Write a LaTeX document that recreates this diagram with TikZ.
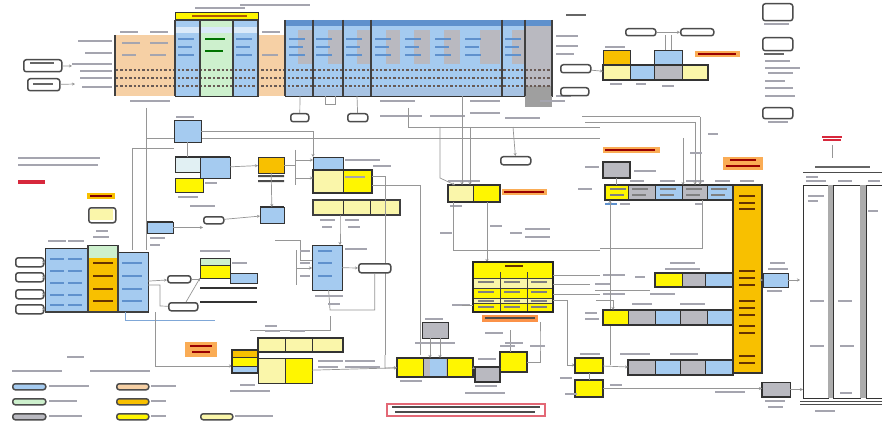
\documentclass[tikz,border=0pt]{standalone}
\usetikzlibrary{arrows.meta}
\definecolor{cblue}{RGB}{165,203,240}
\definecolor{cdblue}{RGB}{95,145,205}
\definecolor{cgreen}{RGB}{205,240,205}
\definecolor{cgray}{RGB}{185,185,192}
\definecolor{cpeach}{RGB}{246,208,165}
\definecolor{cgold}{RGB}{248,192,0}
\definecolor{cyel}{RGB}{255,246,0}
\definecolor{clyel}{RGB}{250,246,170}
\definecolor{corg}{RGB}{250,172,85}
\definecolor{cwire}{RGB}{150,150,150}
\definecolor{ctxt}{RGB}{165,165,175}
\definecolor{cred}{RGB}{215,40,60}
\definecolor{dotc}{RGB}{105,90,85}
\newcommand\bx[6]{\node[bxs,fill=#6,minimum width=#4pt,minimum height=#5pt] (#1) at (#2,#3) {};}
\newcommand\rb[5]{\node[rbs,minimum width=#4pt,minimum height=#5pt] (#1) at (#2,#3) {};}
\newcommand\tb[4][ctxt]{\fill[#1] (#2,#3) rectangle ++(#4,1.8);}
\begin{document}
\begin{tikzpicture}[x=1pt,y=-1pt,
  bxs/.style={draw=black!80,line width=0.9pt,inner sep=0pt,anchor=north west,outer sep=0pt},
  rbs/.style={draw=black!70,line width=1.5pt,rounded corners=2.5pt,fill=white,inner sep=0pt,anchor=north west},
  lab/.style={inner sep=0pt,anchor=north west,fill=corg},
  wire/.style={draw=cwire,line width=0.7pt},
  arr/.style={wire,-{Stealth[length=3pt,width=3pt]}}]
\fill[white] (0,0) rectangle (882,422);
\useasboundingbox (0,0) rectangle (882,422);

% ================= TOP TABLE =================
\tb{240}{4}{70}
\tb{195}{7}{50}
\node[bxs,fill=cyel,minimum width=83pt,minimum height=8pt] (thdr) at (175,12) {};
\tb[orange!70!black]{192}{15}{55}
\fill[cpeach] (115,35) rectangle (175,96);
\fill[cpeach] (258,35) rectangle (285,96);
\tb{120}{31}{18}\tb{150}{31}{18}\tb{262}{31}{18}
\bx{tA}{175}{20}{25}{76}{cblue}
\bx{tB}{200}{20}{33}{76}{cgreen}
\bx{tC}{233}{20}{25}{76}{cblue}
\fill[white!60!cblue] (176,27) rectangle (257,33);
\bx{tD}{285}{20}{267}{76}{cblue}
\fill[cdblue] (285,20) rectangle (552,26);
\foreach \xa/\xb in {298/312,328/343,357/371,386/400,414/430,444/460,480/500,512/525}{
  \fill[cgray] (\xa,30) rectangle (\xb,64);}
\fill[cgray] (525,26) rectangle (552,96);
\fill[gray!75] (525,86) rectangle (552,107);
\fill[cdblue!55] (285,88) rectangle (525,96);
\foreach \yy in {70,78,86}{
  \draw[line width=2.2pt,dash pattern=on 2.4pt off 2pt,draw=dotc] (116,\yy)--(552,\yy);}
\foreach \xx in {175,200,233,258,285,313,343,371,502,525,552}{
  \draw[black!75,line width=1.1pt] (\xx,20)--(\xx,96);}
\draw[black!75,line width=1.4pt] (115,35)--(115,96);
\draw[black!75,line width=1.4pt] (175,20)--(258,20);
% cell text
\foreach \xx in {178,236,289,316,346,375,405,435,465,505}{
  \tb[cdblue]{\xx}{38}{16}\tb[cdblue]{\xx}{46}{14}\tb[cdblue]{\xx}{54}{16}}
\foreach \xx in {205,213}{\tb[green!45!black]{\xx}{38}{12}\tb[green!45!black]{\xx}{50}{10}}
\tb{122}{42}{18}\tb{150}{42}{18}\tb{122}{54}{14}\tb{150}{54}{16}\tb{262}{54}{16}
% row labels
\tb{78}{40}{34}\tb{85}{52}{27}\tb{72}{63}{40}\tb{80}{70}{32}\tb{80}{77}{32}\tb{82}{86}{30}
\tb{130}{100}{40}\tb{380}{100}{35}\tb{470}{100}{30}\tb{540}{100}{25}
% left rounded boxes
\rb{lr1}{23}{59}{38}{12}
\rb{lr2}{27}{78}{32}{12}
\tb[black!60]{30}{62}{24}\tb[black!60]{33}{83}{20}
\coordinate (lr1e) at (72,66);
\coordinate (lr2e) at (75,84);
\draw[arr] (lr1) -- (lr1e);
\draw[arr] (lr2) -- (lr2e);
% right of table
\tb[black!60]{566}{14}{20}
\tb{556}{35}{22}\tb{556}{45}{22}\tb{556}{53}{18}\tb{556}{95}{15}
\rb{tr1}{560}{64}{30}{8}
\rb{tr2}{560}{87}{28}{8}
% under table
\rb{u1}{290}{113}{18}{8}
\rb{u2}{347}{113}{20}{8}
\tb{380}{115}{42}\tb{430}{115}{35}\tb{470}{112}{30}\tb{505}{117}{35}
\draw[wire] (300,96) -- (u1);
\draw[wire] (357,96) -- (u2);
\draw[wire] (325,96) -- (325,104) -- (335,104) -- (335,96);

% ================= TOP RIGHT GROUP =================
\rb{gr1}{625}{28}{30}{7}
\rb{gr2}{680}{28}{33}{7}
\draw[arr] (gr1) -- (gr2);
\bx{gA}{603}{50}{27}{15}{cgold}
\bx{gB}{603}{65}{27}{15}{clyel}
\bx{gC}{630}{65}{24}{15}{cblue}
\bx{gD}{654}{50}{28}{15}{cblue}
\bx{gE}{654}{65}{28}{15}{cgray}
\bx{gF}{682}{65}{26}{15}{clyel}
\draw[black!80,line width=1.5pt] (603,65) rectangle (708,80);
\node[lab,minimum width=45pt,minimum height=6pt] (glab) at (695,51) {};
\tb[red!60!black]{698}{53}{38}
\tb{605}{46}{20}\tb{610}{83}{12}\tb{636}{83}{10}\tb{662}{85}{12}
\draw[wire] (665,35) -- (gD.north -| 665,0);
\draw[wire] (671,35) -- (gD.north -| 671,0);
\draw[arr] (tr1) -- (gB);
% right legend
\rb{lg1}{762}{3}{30}{17}
\rb{lg2}{762}{37}{30}{13}
\rb{lg3}{762}{107}{30}{11}
\tb{764}{23}{25}\tb[black!60]{764}{53}{20}
\tb{765}{60}{25}\tb{765}{67}{35}\tb{768}{72}{25}\tb{765}{80}{20}\tb{765}{87}{28}\tb{765}{95}{30}
\tb{768}{121}{20}
% big frame lines
\coordinate (fr1) at (582,117);
\coordinate (fr2) at (700,117);
\coordinate (fr3) at (585,122);
\coordinate (fr4) at (695,122);
\draw[wire,line width=1pt] (fr1) -- (fr2);
\draw[wire] (fr3) -- (fr4);

% ================= LONG LINES =================
\coordinate (h1) at (146,138);
\coordinate (h2) at (600,138);
\draw[wire] (408,108) |- (600,127);
\draw[wire] (h1) -- (h2);
\draw[wire] (146,108) -- (146,250);
\draw[wire] (132,148) -- (132,250);
\draw[wire] (132,148) -- (174,148);

% ================= MIDDLE LEFT =================
\tb{18}{157}{82}\tb{18}{164}{80}
\tb[cred]{18}{180}{27}\tb[cred]{18}{182}{27}
\node[lab,fill=cgold,minimum width=28pt,minimum height=6pt] (sl) at (87,193) {};
\tb[red!50!black]{90}{195}{22}
\rb{sbox}{88}{207}{27}{15}
\fill[clyel] (90,209) rectangle (113,220);
\tb{96}{230}{12}\tb{93}{236}{16}
% left table
\bx{lt}{45}{248}{43}{64}{cblue}
\tb{48}{240}{18}\tb{68}{240}{16}
\bx{ot}{88}{245}{30}{67}{cgold}
\fill[cgreen] (88.5,245.5) rectangle (117.5,258);
\bx{bt}{118}{252}{30}{60}{cblue}
\draw[black!75,line width=1.4pt] (88,245)--(88,312) (118,245)--(118,312);
\draw[black!75,line width=1.4pt] (45,312)--(148,312);
\foreach \yy in {258,270,282,294,304}{\tb[cdblue]{50}{\yy}{14}\tb[cdblue]{68}{\yy}{14}}
\foreach \yy in {262,275,288,300}{\tb[orange!40!black]{93}{\yy}{20}\tb[cdblue]{122}{\yy}{20}}
% left arrows
\rb{la1}{15}{257}{28}{9}
\rb{la2}{15}{272}{28}{9}
\rb{la3}{15}{289}{28}{9}
\rb{la4}{15}{304}{28}{9}
\foreach \n in {1,2,3,4}{\draw[arr] (la\n) -- (la\n -| lt.west);}
% small boxes
\bx{sb1}{147}{222}{26}{11}{cblue}
\draw[black!80,line width=1.6pt] (147,222)--(173,222);
\tb{150}{237}{15}\tb{150}{244}{10}
\bx{mt1}{174}{120}{27}{22}{cblue}
\tb{176}{116}{18}
\bx{mc1}{175}{157}{25}{15}{cgreen!40!cblue!40}
\bx{mc2}{200}{157}{30}{21}{cblue}
\bx{my1}{175}{178}{28}{14}{cyel}
\draw[black!80,line width=1.6pt] (175,157)--(230,157);
\tb{178}{196}{20}\tb{205}{182}{12}\tb{190}{205}{25}
\rb{rb3}{203}{216}{20}{7}
\node[bxs,fill=cgold,minimum width=26pt,minimum height=16pt] (dp) at (258,157) {};
\fill[black!70] (258,175) rectangle (284,177) (258,180) rectangle (284,182);
\draw[arr] (mc2) -- (dp);
\bx{db}{260}{207}{24}{16}{cblue}
\draw[black!80,line width=1.6pt] (260,207)--(284,207);
\draw[arr] (dp) -- (db);
\draw[arr] (rb3) -- (db);
\draw[arr] (mt1) -| (313,157);
% mid stack
\bx{ms1}{200}{258}{30}{7}{cgreen}
\bx{ms2}{200}{265}{30}{13}{cyel}
\bx{ms3}{230}{273}{27}{10}{cblue}
\draw[black!80,line width=1.3pt] (200,288)--(257,288) (200,302)--(257,302);
\tb{200}{250}{30}\tb{232}{262}{15}
\rb{rb4}{167}{275}{23}{7}
\rb{rb5}{168}{302}{29}{8}
\draw[arr] (bt) -- (rb4);
\draw[arr] (rb5) -- (ms2.south west);
\draw[arr] (sb1) -- (sb1 -| rb3.west);
\draw[wire] (mt1) -- (mc1);
\draw[wire] (148,285) -- (160,285) -- (160,306) -- (rb5);
\draw[wire] (rb4) -- (rb4 -| ms2.west);
% blue line to stack
\draw[draw=cdblue!80,line width=0.8pt] (125,312) |- (215,320);
\draw[arr] (155,312) |- (232,366);
\draw[wire] (275,240) -- (300,240) -- (300,260) -- (312,260);

% ================= MIDDLE CENTER =================
\bx{cb1}{313}{157}{30}{13}{cblue}
\bx{cy1}{313}{170}{30}{23}{clyel}
\bx{cy2}{343}{170}{29}{23}{cyel}
\draw[black!80,line width=1.6pt] (313,170) rectangle (372,193);
% bracket into centre boxes
\draw[wire] (295,150) -- (295,185);
\draw[arr] (295,160) -- (cb1.west |- 0,160);
\draw[arr] (295,178) -- (cy1.west |- 0,178);
\draw[wire] (284,165) -- (295,165);
\bx{cr1}{313}{200}{30}{15}{clyel}
\bx{cr2}{343}{200}{27}{15}{clyel}
\bx{cr3}{370}{200}{30}{15}{clyel}
\draw[black!75,line width=1.6pt] (313,200) rectangle (400,215);
\tb{320}{219}{15}\tb{345}{219}{14}\tb{322}{226}{10}\tb{348}{226}{12}
\tb{345}{159}{35}\tb{345}{176}{20}
\tb{373}{165}{18}
\draw[wire] (372,176) -- (385,176) -- (385,355);
\bx{cbcol}{312}{245}{30}{45}{cblue}
\tb[cdblue]{318}{250}{14}\tb[cdblue]{318}{262}{14}\tb[cdblue]{318}{275}{14}
\tb{300}{250}{10}\tb{300}{262}{10}\tb{300}{275}{10}\tb{345}{248}{22}
\draw[wire] (296,250) -- (296,285);
\draw[arr] (296,268) -- (cbcol.west |- 0,268);
\rb{rb6}{358}{263}{32}{9}
\draw[arr] (cbcol) -- (rb6);
\draw[wire] (rb6.south) |- (330,310) -- (cbcol);
\tb{315}{295}{28}\tb{328}{303}{12}
\draw[wire] (330,316) |- (250,330);
\draw[arr] (340,215) -- (340,225) -- (cbcol.north -| 340,0);

% yellow pair
\bx{py1}{448}{185}{25}{17}{clyel}
\bx{py2}{473}{185}{27}{17}{cyel}
\draw[black!80,line width=1.6pt] (448,185) rectangle (500,202);
\node[lab,minimum width=45pt,minimum height=6pt] (plab) at (502,189) {};
\tb[red!60!black]{504}{191}{40}
\tb{448}{180}{32}\tb{450}{205}{12}
\draw[arr] (462,96) -- (py1.north -| 462,0);
\draw[arr] (470,127) -- (py1.north -| 470,0);
\draw[arr] (440,127) -- (440,178) -- (py1.north -| 455,0);
\rb{rb7}{500}{156}{30}{8}
\draw[arr] (513,127) -- (rb7);
\draw[wire] (453,202) |- (600,250);
\draw[arr] (487,202) -- (487,262);
\tb{490}{225}{12}\tb{440}{232}{12}\tb{510}{232}{12}
\tb{525}{228}{25}\tb{525}{236}{25}
\draw[wire] (372,185) -- (420,185) -- (420,355);

% yellow table
\node[bxs,fill=clyel,minimum width=80pt,minimum height=50pt,line width=1.8pt] (yt) at (473,262) {};
\fill[cyel] (474,263) rectangle (552,272);
\fill[cyel] (474,272) rectangle (552,278);
\fill[cyel] (474,288) rectangle (552,298);
\fill[cyel] (474,303) rectangle (552,311);
\draw[black!75,line width=1pt] (500,272)--(500,311) (527,272)--(527,311);
\draw[black!75,line width=0.8pt] (474,278)--(552,278) (474,288)--(552,288) (474,298)--(552,298) (474,303)--(552,303);
\draw[black!85,line width=1.8pt] (473,262) rectangle (553,312);
\tb[orange!40!black]{505}{265}{18}
\foreach \yy in {281,291,300,306}{\tb[black!50]{478}{\yy}{16}\tb[black!50]{504}{\yy}{16}\tb[black!50]{531}{\yy}{16}}
\node[lab,fill=corg!85!red,minimum width=56pt,minimum height=7pt] (ylab) at (482,315) {};
\tb[black!70]{485}{317}{50}
\draw[wire] (553,275) -- (600,275);
\draw[wire] (553,284) -- (590,284);
\draw[wire] (553,294) -- (600,294);
\tb{603}{274}{22}\tb{595}{283}{15}\tb{603}{293}{22}
\draw[arr] (553,300) -- (567,300) |- (575,365);
\tb{452}{304}{18}
\draw[wire] (473,305) -- (462,305);

% bottom center
\bx{bc1}{397}{358}{26}{19}{cyel}
\bx{bc2}{423}{358}{24}{19}{cgray}
\fill[cblue] (430,359) rectangle (446,376);
\bx{bc3}{447}{358}{26}{19}{cyel}
\draw[black!80,line width=1.6pt] (397,358) rectangle (473,377);
\bx{bc4}{475}{367}{25}{15}{cgray}
\draw[black!80,line width=1.4pt] (475,367) rectangle (500,382);
\bx{bc5}{500}{352}{27}{20}{cyel}
\draw[black!80,line width=2pt] (500,352) rectangle (527,372);
\bx{bcg}{422}{322}{26}{16}{cgray}
\tb{425}{318}{18}\tb{415}{342}{40}
\draw[arr] (bcg.south -| 430,0) -- (430,358);
\draw[arr] (bcg.south -| 440,0) -- (440,358);
\draw[arr] (385,355) -- (385,368) -- (bc1);
\draw[arr] (473,368) -- (bc4);
\draw[wire] (bc4) -- (bc5);
\draw[wire] (bc5.east) -- (540,362) -- (540,340) -- (ylab.south -| 540,0);
\draw[wire] (510,352) -- (510,330);
\tb{485}{332}{18}\tb{505}{342}{18}\tb{530}{345}{15}
\tb{400}{380}{22}\tb{475}{385}{22}\tb{465}{392}{40}
\tb{500}{345}{15}\tb{478}{358}{18}
% red bordered note
\node[bxs,draw=cred!70,line width=1.2pt,fill=white,minimum width=158pt,minimum height=12pt] (note) at (387,404) {};
\tb[black!70]{392}{406}{148}\tb[black!70]{395}{411}{140}

% ================= BOTTOM LEFT =================
\node[lab,fill=corg,minimum width=32pt,minimum height=15pt] (clab) at (185,342) {};
\tb[red!60!black]{190}{345}{22}\tb[red!60!black]{192}{351}{18}
\node[lab,fill=cgold,minimum width=26pt,minimum height=7pt] (ylb) at (232,350) {};
\bx{lb1}{232}{357}{26}{9}{cyel}
\bx{lb0}{232}{366}{26}{7}{cblue}
\bx{lb2}{258}{358}{27}{25}{clyel}
\bx{lb3}{285}{358}{27}{25}{cyel}
\draw[black!80,line width=1.4pt] (232,350) rectangle (258,373);
\bx{lr3}{258}{338}{27}{14}{clyel}
\bx{lr4}{285}{338}{27}{14}{clyel}
\bx{lr5}{312}{338}{31}{14}{clyel}
\draw[black!80,line width=1.4pt] (258,338) rectangle (343,352);
\tb{265}{330}{15}\tb{290}{330}{15}\tb{265}{325}{12}
\tb{240}{384}{15}\tb{230}{390}{40}
\draw[arr] (lb3) -- (bc1);
\tb{318}{360}{25}\tb{318}{366}{20}\tb{345}{360}{30}\tb{345}{366}{35}

% legend
\tb{67}{356}{17}
\tb{12}{370}{50}\tb{90}{370}{60}
\node[rbs,fill=cblue,minimum width=33pt,minimum height=6pt] (lg_b) at (12,383) {};
\node[rbs,fill=cgreen,minimum width=33pt,minimum height=6pt] (lg_g) at (12,398) {};
\node[rbs,fill=cgray,minimum width=33pt,minimum height=6pt] (lg_k) at (12,413) {};
\node[rbs,fill=cpeach,minimum width=32pt,minimum height=6pt] (lg_p) at (116,383) {};
\node[rbs,fill=cgold,minimum width=32pt,minimum height=6pt] (lg_o) at (116,398) {};
\node[rbs,fill=cyel,minimum width=32pt,minimum height=6pt] (lg_y) at (116,413) {};
\node[rbs,fill=clyel,minimum width=32pt,minimum height=6pt] (lg_l) at (200,413) {};
\tb{49}{385}{40}\tb{49}{400}{28}\tb{49}{415}{33}
\tb{151}{385}{25}\tb{151}{400}{15}\tb{151}{415}{15}\tb{235}{415}{38}

% ================= RIGHT MIDDLE =================
\node[lab,minimum width=57pt,minimum height=6pt] (mlab) at (603,147) {};
\tb[red!60!black]{605}{149}{50}
\bx{mg}{603}{162}{27}{16}{cgray}
\draw[black!80,line width=1.6pt] (603,162) rectangle (630,178);
\tb{585}{166}{14}\tb{634}{170}{22}\tb{578}{188}{14}
\bx{r1a}{605}{185}{23}{15}{cyel}
\bx{r1b}{628}{185}{27}{15}{cgray}
\bx{r1c}{655}{185}{27}{15}{cblue}
\bx{r1d}{682}{185}{25}{15}{cgray}
\bx{r1e}{707}{185}{26}{15}{cblue}
\draw[black!80,line width=1.6pt] (605,185) rectangle (733,200);
\foreach \xx in {632,660,686,711,610}{\tb[black!50]{\xx}{188}{16}\tb[black!50]{\xx}{194}{14}}
\tb{630}{180}{14}\tb{660}{180}{15}\tb{686}{180}{18}\tb{715}{180}{15}
\tb[cdblue]{605}{203}{12}\tb{620}{203}{10}\tb{695}{203}{8}
\node[lab,minimum width=40pt,minimum height=13pt] (flab) at (723,157) {};
\tb[red!60!black]{730}{159}{26}\tb[red!60!black]{726}{165}{34}
\bx{ocol}{733}{185}{29}{188}{cgold}
\draw[black!80,line width=1.6pt] (733,185) rectangle (762,373);
\foreach \yy in {195,202,208,270,277,284,300,307,314,325,332,355,362}{\tb[orange!40!black]{739}{\yy}{16}}
\tb{740}{180}{14}
\draw[arr] (700,117) -- (r1d.north -| 700,0);
\draw[arr] (695,122) -- (r1d.north -| 695,0);
\draw[arr] (683,138) -- (r1c.north -| 683,0);
\draw[wire] (mg) -- (mg |- r1a.north);
\draw[wire] (702,200) |- (600,248);
\draw[arr] (610,365) -- (610,200);
\tb{708}{133}{10}\tb{690}{152}{12}
% row 2
\bx{r2a}{655}{273}{27}{14}{cyel}
\bx{r2b}{682}{273}{23}{14}{cgray}
\bx{r2c}{705}{273}{28}{14}{cblue}
\draw[black!80,line width=1.6pt] (655,273) rectangle (733,287);
\bx{r2d}{763}{273}{25}{14}{cblue}
\tb{670}{262}{25}\tb{665}{268}{35}\tb{770}{262}{15}\tb{768}{268}{20}\tb{767}{290}{15}
\tb{635}{276}{10}\tb{650}{293}{25}
\draw[arr] (r2d.east) -- (800,280);
\draw[arr] (ocol.east |- r2d.west) -- (r2d);
\draw[wire] (595,290) -- (650,290);
% row 3
\bx{r3a}{603}{310}{25}{15}{cyel}
\bx{r3b}{628}{310}{27}{15}{cgray}
\bx{r3c}{655}{310}{25}{15}{cblue}
\bx{r3d}{680}{310}{27}{15}{cgray}
\bx{r3e}{707}{310}{26}{15}{cblue}
\draw[black!80,line width=1.6pt] (603,310) rectangle (733,325);
\tb{585}{312}{12}\tb{585}{318}{14}\tb{632}{303}{20}\tb{680}{303}{25}
\draw[arr] (596,300) -- (613,300) -- (r3a.north -| 613,0);
% row 4
\bx{r4a}{575}{358}{28}{15}{cyel}
\bx{r4b}{575}{380}{28}{17}{cyel}
\draw[black!80,line width=1.6pt] (575,358) rectangle (603,373) (575,380) rectangle (603,397);
\bx{r4c}{628}{360}{27}{15}{cgray}
\bx{r4d}{655}{360}{25}{15}{cblue}
\bx{r4e}{680}{360}{25}{15}{cgray}
\bx{r4f}{705}{360}{28}{15}{cblue}
\draw[black!80,line width=1.4pt] (628,360) rectangle (733,375);
\tb{580}{353}{20}\tb{620}{353}{30}\tb{670}{353}{28}\tb{560}{377}{12}\tb{565}{393}{12}
\draw[arr] (r4a) -- (r4c);
\draw[wire] (589,373) -- (589,380);
\bx{gb}{762}{382}{28}{15}{cgray}
\draw[black!80,line width=1.4pt] (762,382) -- (762,397) -- (790,397);
\draw[arr] (r4b) -- (r4b -| gb.west);
\tb{610}{384}{12}\tb{715}{391}{30}\tb{765}{400}{20}\tb{768}{406}{15}
\draw[arr] (gb) -- (gb -| 803,0);

% ================= RIGHT TABLE =================
\tb[cred]{822}{136}{20}\tb[cred]{823}{139}{18}
\coordinate (st) at (832,145);
\coordinate (st2) at (832,158);
\draw[wire] (st) -- (st2);
\draw[black!70,line width=1pt] (803,172) -- (882,172);
\tb[black!60]{815}{166}{55}
\tb{806}{176}{12}\tb{806}{180}{20}\tb{838}{180}{14}\tb{868}{180}{12}
\bx{c1}{803}{185}{25}{213}{white}
\fill[gray!65] (828,185) rectangle (833,398);
\bx{c2}{833}{185}{27}{213}{white}
\fill[gray!65] (860,185) rectangle (866,398);
\bx{c3}{866}{185}{16}{213}{white}
\draw[black!70,line width=1pt] (800,401) -- (882,401) (800,404) -- (882,404);
\tb{808}{195}{16}\tb{808}{200}{10}
\tb{810}{300}{14}\tb{838}{300}{14}\tb{810}{345}{14}\tb{840}{345}{14}\tb{840}{392}{12}\tb{815}{410}{20}\tb{868}{210}{10}
\end{tikzpicture}
\end{document}
